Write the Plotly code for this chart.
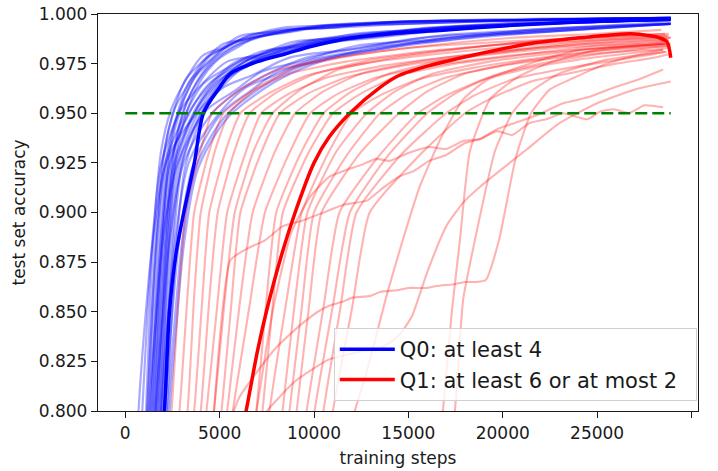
import plotly.graph_objects as go

# ---------------- data ----------------
X_TICKS = [0, 5000, 10000, 15000, 20000, 25000, 30000]
Y_TICKS = [0.800, 0.825, 0.850, 0.875, 0.900, 0.925, 0.950, 0.975, 1.000]
THRESHOLD_STEPS = [0, 28900]
THRESHOLD_ACC = [0.95, 0.95]

LEGEND_Q0 = "Q0: at least 4"
LEGEND_Q1 = "Q1: at least 6 or at most 2"
X_LABEL = "training steps"
Y_LABEL = "test set accuracy"

# individual Q0 runs (blue, faint)
BLUE_RUN_STEPS = [
    [100, 1100, 1350, 1600, 1900, 2400, 3100, 4100, 5100, 6100, 8100, 10100, 14100, 21100, 28900],
    [200, 1200, 1450, 1700, 2000, 2500, 3200, 4200, 5200, 6200, 8200, 10200, 14200, 21200, 28900],
    [300, 1300, 1550, 1800, 2100, 2600, 3300, 4300, 5300, 6300, 8300, 10300, 14300, 21300, 28900],
    [400, 1400, 1650, 1900, 2200, 2700, 3400, 4400, 5400, 6400, 8400, 10400, 14400, 21400, 28900],
    [500, 1500, 1750, 2000, 2300, 2800, 3500, 4500, 5500, 6500, 8500, 10500, 14500, 21500, 28900],
    [600, 1600, 1850, 2100, 2400, 2900, 3600, 4600, 5600, 6600, 8600, 10600, 14600, 21600, 28900],
    [700, 1700, 1950, 2200, 2500, 3000, 3700, 4700, 5700, 6700, 8700, 10700, 14700, 21700, 28900],
    [800, 1800, 2050, 2300, 2600, 3100, 3800, 4800, 5800, 6800, 8800, 10800, 14800, 21800, 28900],
    [900, 1900, 2150, 2400, 2700, 3200, 3900, 4900, 5900, 6900, 8900, 10900, 14900, 21900, 28900],
    [0, 900, 1200, 1500, 1900, 2900, 3900, 5400, 6900, 8900, 11900, 15900, 20900, 28900],
    [150, 1150, 1450, 1750, 2150, 3150, 4150, 5650, 7150, 9150, 12150, 16150, 21150, 28900],
    [350, 1350, 1650, 1950, 2350, 3350, 4350, 5850, 7350, 9350, 12350, 16350, 21350, 28900],
    [450, 1450, 1750, 2050, 2450, 3450, 4450, 5950, 7450, 9450, 12450, 16450, 21450, 28900],
    [550, 1550, 1850, 2150, 2550, 3550, 4550, 6050, 7550, 9550, 12550, 16550, 21550, 28900],
    [650, 1650, 1950, 2250, 2650, 3650, 4650, 6150, 7650, 9650, 12650, 16650, 21650, 28900],
    [750, 1750, 2050, 2350, 2750, 3750, 4750, 6250, 7750, 9750, 12750, 16750, 21750, 28900],
    [850, 1850, 2150, 2450, 2850, 3850, 4850, 6350, 7850, 9850, 12850, 16850, 21850, 28900],
    [950, 1950, 2250, 2550, 2950, 3950, 4950, 6450, 7950, 9950, 12950, 16950, 21950, 28900],
    [1050, 2050, 2350, 2650, 3050, 4050, 5050, 6550, 8050, 10050, 13050, 17050, 22050, 28900],
    [1200, 2200, 2500, 2800, 3200, 4200, 5200, 6700, 8200, 10200, 13200, 17200, 22200, 28900],
    [0, 700, 1100, 1500, 2200, 3700, 5200, 6700, 8700, 11700, 15700, 20700, 28900],
    [250, 1250, 1650, 2050, 2750, 4250, 5750, 7250, 9250, 12250, 16250, 21250, 28900],
    [600, 1600, 2000, 2400, 3100, 4600, 6100, 7600, 9600, 12600, 16600, 21600, 28900],
    [900, 1900, 2300, 2700, 3400, 4900, 6400, 7900, 9900, 12900, 16900, 21900, 28900],
    [1100, 2100, 2500, 2900, 3600, 5100, 6600, 8100, 10100, 13100, 17100, 22100, 28900],
    [1250, 2250, 2650, 3050, 3750, 5250, 6750, 8250, 10250, 13250, 17250, 22250, 28900],
    [1350, 2350, 2750, 3150, 3850, 5350, 6850, 8350, 10350, 13350, 17350, 22350, 28900],
]
BLUE_RUN_ACC = [
    [0.62, 0.80, 0.862, 0.902, 0.931, 0.951, 0.965, 0.979, 0.983, 0.989, 0.991, 0.994, 0.996, 0.997, 0.998],
    [0.62, 0.80, 0.858, 0.899, 0.928, 0.949, 0.967, 0.977, 0.985, 0.987, 0.992, 0.993, 0.996, 0.9975, 0.998],
    [0.62, 0.80, 0.861, 0.901, 0.932, 0.952, 0.964, 0.978, 0.983, 0.988, 0.993, 0.994, 0.995, 0.997, 0.998],
    [0.62, 0.80, 0.860, 0.900, 0.929, 0.948, 0.966, 0.976, 0.984, 0.987, 0.991, 0.994, 0.996, 0.997, 0.998],
    [0.62, 0.80, 0.859, 0.898, 0.930, 0.950, 0.965, 0.979, 0.984, 0.989, 0.992, 0.993, 0.996, 0.997, 0.998],
    [0.62, 0.80, 0.862, 0.903, 0.932, 0.951, 0.967, 0.977, 0.985, 0.988, 0.991, 0.994, 0.995, 0.997, 0.998],
    [0.62, 0.80, 0.857, 0.897, 0.927, 0.949, 0.964, 0.976, 0.983, 0.987, 0.992, 0.993, 0.996, 0.997, 0.998],
    [0.62, 0.80, 0.860, 0.900, 0.930, 0.951, 0.966, 0.978, 0.984, 0.988, 0.991, 0.994, 0.996, 0.997, 0.998],
    [0.62, 0.80, 0.858, 0.899, 0.929, 0.949, 0.965, 0.977, 0.983, 0.988, 0.992, 0.993, 0.995, 0.997, 0.998],
    [0.64, 0.80, 0.853, 0.893, 0.924, 0.951, 0.963, 0.976, 0.979, 0.986, 0.988, 0.993, 0.995, 0.997],
    [0.62, 0.80, 0.856, 0.896, 0.926, 0.949, 0.965, 0.974, 0.981, 0.984, 0.990, 0.992, 0.995, 0.997],
    [0.62, 0.80, 0.854, 0.894, 0.925, 0.950, 0.963, 0.976, 0.980, 0.986, 0.989, 0.993, 0.996, 0.9975],
    [0.62, 0.80, 0.857, 0.896, 0.927, 0.951, 0.965, 0.974, 0.981, 0.985, 0.988, 0.992, 0.995, 0.997],
    [0.62, 0.80, 0.855, 0.895, 0.924, 0.949, 0.964, 0.976, 0.979, 0.986, 0.990, 0.993, 0.995, 0.997],
    [0.62, 0.80, 0.853, 0.894, 0.925, 0.950, 0.963, 0.975, 0.981, 0.984, 0.989, 0.993, 0.995, 0.997],
    [0.62, 0.80, 0.856, 0.896, 0.926, 0.951, 0.965, 0.974, 0.980, 0.985, 0.988, 0.992, 0.995, 0.9975],
    [0.62, 0.80, 0.855, 0.895, 0.925, 0.950, 0.964, 0.976, 0.981, 0.986, 0.989, 0.993, 0.995, 0.997],
    [0.62, 0.80, 0.854, 0.894, 0.924, 0.949, 0.963, 0.975, 0.979, 0.985, 0.990, 0.992, 0.995, 0.997],
    [0.62, 0.80, 0.856, 0.896, 0.926, 0.950, 0.965, 0.974, 0.980, 0.984, 0.989, 0.993, 0.996, 0.997],
    [0.62, 0.80, 0.855, 0.894, 0.924, 0.951, 0.964, 0.976, 0.981, 0.985, 0.988, 0.992, 0.995, 0.997],
    [0.65, 0.80, 0.851, 0.889, 0.926, 0.949, 0.963, 0.969, 0.978, 0.982, 0.988, 0.991, 0.995],
    [0.62, 0.80, 0.849, 0.891, 0.924, 0.951, 0.961, 0.971, 0.976, 0.984, 0.987, 0.992, 0.995],
    [0.62, 0.80, 0.850, 0.890, 0.925, 0.950, 0.962, 0.970, 0.978, 0.983, 0.989, 0.992, 0.996],
    [0.62, 0.80, 0.852, 0.890, 0.926, 0.949, 0.963, 0.969, 0.977, 0.982, 0.988, 0.991, 0.995],
    [0.62, 0.80, 0.850, 0.889, 0.924, 0.950, 0.961, 0.971, 0.976, 0.983, 0.987, 0.992, 0.995],
    [0.62, 0.80, 0.849, 0.888, 0.923, 0.948, 0.960, 0.969, 0.977, 0.982, 0.988, 0.991, 0.995],
    [0.62, 0.80, 0.848, 0.887, 0.922, 0.947, 0.959, 0.968, 0.976, 0.982, 0.987, 0.991, 0.995],
]

# mean of Q0 runs (blue, bold)
BLUE_MEAN_STEPS = [0, 1500, 2070, 2340, 2700, 3100, 3660, 4140, 5000, 5570, 7000, 8500,
                   10000, 12000, 14000, 17000, 20000, 24000, 28900]
BLUE_MEAN_ACC = [0.50, 0.74, 0.80, 0.85, 0.88, 0.90, 0.925, 0.95, 0.963, 0.970, 0.976, 0.980,
                 0.984, 0.988, 0.990, 0.992, 0.994, 0.996, 0.9975]

# individual Q1 runs (red, faint)
RED_RUN_STEPS = [
    [1450, 2450, 2820, 3200, 3900, 4600, 6100, 8100, 11100, 15100, 20000, 24500, 28600],
    [1870, 2870, 3260, 3650, 4420, 5200, 6700, 8700, 11700, 15700, 20500, 25000, 28800],
    [2300, 3300, 3650, 4000, 4750, 5500, 7000, 9000, 12000, 16000, 20500, 25000, 28400],
    [2650, 3650, 4050, 4450, 5250, 6100, 7600, 9600, 12600, 16600, 21000, 25500, 28900],
    [3000, 4000, 4450, 4900, 5750, 6600, 8100, 10100, 13100, 17100, 21500, 25500, 28700],
    [3300, 4300, 4850, 5400, 6300, 7200, 8700, 10700, 13700, 17700, 22000, 26000, 28500],
    [3700, 4700, 5250, 5800, 6800, 7800, 9300, 11300, 14300, 18300, 22500, 26000, 28800],
    [4100, 5100, 5600, 6100, 7150, 8200, 9700, 11700, 14700, 18700, 23000, 26500, 28600],
    [4400, 5400, 6050, 6750, 7900, 9000, 10500, 12500, 15500, 19500, 23500, 26500, 28900],
    [4700, 5700, 6550, 7400, 8600, 9800, 11300, 13300, 16300, 20300, 24000, 27000, 28700],
    [5950, 6950, 7470, 8000, 9250, 10500, 12000, 14000, 17000, 21000, 24500, 27000, 28800],
    [6270, 7270, 7800, 8350, 9700, 11000, 12500, 14500, 17500, 21500, 25000, 27500, 28600],
    [6640, 7640, 8500, 9350, 10700, 12000, 13500, 15500, 18500, 22000, 25500, 27500, 28900],
    [7330, 8330, 9000, 9650, 11200, 12800, 14300, 16300, 19300, 22500, 25500, 27500, 28700],
    [7700, 8700, 9350, 10000, 11750, 13500, 15000, 17000, 20000, 23000, 26000, 28000, 28800],
    [8080, 9080, 9750, 10400, 12450, 14500, 16000, 18000, 21000, 24000, 26500, 28000, 28900],
    [8610, 9610, 10500, 11350, 13400, 15500, 17000, 19000, 21500, 24000, 26500, 28500],
    [9030, 10030, 11000, 11900, 13950, 16000, 17500, 19500, 22000, 24500, 27000, 28800],
    [9500, 10500, 11400, 12250, 14600, 17000, 18500, 20500, 23000, 25500, 27500, 28600],
    [10000, 11000, 12000, 12950, 15500, 18000, 19500, 21500, 24000, 26000, 28000, 28900],
    # kinked slow run ending near 0.972
    [4300, 4700, 5570, 6500, 7400, 8330, 9400, 10500, 11600, 12800, 13600, 14500, 15300, 16100,
     17000, 18000, 18800, 19700, 20600, 21800, 23200, 24500, 25900, 27200, 28500],
    # slow run ending near 0.953
    [6000, 6950, 7800, 8800, 9800, 10800, 11600, 12500, 13300, 14000, 15000, 16100, 17000, 17900,
     18800, 19700, 20500, 21400, 22300, 23200, 24000, 24500, 25200, 25900, 26700, 27500, 28500],
    # plateau run that jumps late
    [5000, 6050, 7000, 8000, 9000, 9500, 10200, 10800, 11500, 12000, 13000, 13500, 14500, 15000,
     16000, 16500, 17500, 18000, 18600, 19100, 19800, 20700, 21500, 22500, 23800, 25500, 27000,
     28500],
    # slow run under the legend that rises late
    [6000, 7500, 9000, 10800, 12500, 13600, 14500, 15200, 16000, 17000, 17900, 18800, 20500,
     21300, 23000, 25000, 27000, 28900],
    # late steep run
    [11500, 12800, 13900, 14700, 15600, 16700, 17900, 19200, 21400, 24100, 28600],
    # very late steep runs
    [15500, 16300, 16830, 17300, 17730, 18260, 19320, 20750, 22350, 25000, 28500],
    [16500, 17460, 17900, 18500, 19590, 20500, 21500, 23000, 25500, 28700],
]
RED_RUN_ACC = [
    [0.72, 0.80, 0.857, 0.90, 0.928, 0.95, 0.962, 0.972, 0.978, 0.983, 0.986, 0.988, 0.990],
    [0.72, 0.80, 0.853, 0.90, 0.930, 0.95, 0.961, 0.970, 0.976, 0.981, 0.985, 0.987, 0.989],
    [0.72, 0.80, 0.858, 0.90, 0.931, 0.95, 0.963, 0.973, 0.979, 0.984, 0.988, 0.990, 0.992],
    [0.72, 0.80, 0.852, 0.90, 0.929, 0.95, 0.960, 0.969, 0.975, 0.980, 0.984, 0.987, 0.988],
    [0.72, 0.80, 0.856, 0.90, 0.930, 0.95, 0.961, 0.970, 0.977, 0.982, 0.986, 0.988, 0.989],
    [0.72, 0.80, 0.851, 0.90, 0.928, 0.95, 0.960, 0.968, 0.974, 0.979, 0.983, 0.986, 0.987],
    [0.72, 0.80, 0.854, 0.90, 0.931, 0.95, 0.962, 0.972, 0.978, 0.983, 0.987, 0.989, 0.990],
    [0.72, 0.80, 0.852, 0.90, 0.929, 0.95, 0.960, 0.968, 0.974, 0.979, 0.983, 0.985, 0.986],
    [0.72, 0.80, 0.853, 0.90, 0.930, 0.95, 0.961, 0.970, 0.976, 0.981, 0.985, 0.987, 0.988],
    [0.72, 0.80, 0.851, 0.90, 0.928, 0.95, 0.960, 0.968, 0.974, 0.979, 0.982, 0.984, 0.985],
    [0.72, 0.80, 0.855, 0.90, 0.929, 0.95, 0.961, 0.970, 0.977, 0.982, 0.985, 0.986, 0.987],
    [0.72, 0.80, 0.852, 0.90, 0.930, 0.95, 0.960, 0.969, 0.975, 0.980, 0.984, 0.985, 0.986],
    [0.72, 0.80, 0.853, 0.90, 0.929, 0.95, 0.959, 0.967, 0.973, 0.978, 0.982, 0.983, 0.984],
    [0.72, 0.80, 0.856, 0.90, 0.931, 0.95, 0.961, 0.970, 0.976, 0.980, 0.983, 0.984, 0.985],
    [0.72, 0.80, 0.852, 0.90, 0.929, 0.95, 0.960, 0.968, 0.974, 0.978, 0.981, 0.982, 0.983],
    [0.72, 0.80, 0.854, 0.90, 0.930, 0.95, 0.961, 0.970, 0.976, 0.980, 0.983, 0.984, 0.985],
    [0.72, 0.80, 0.852, 0.90, 0.928, 0.95, 0.959, 0.967, 0.973, 0.977, 0.980, 0.982],
    [0.72, 0.80, 0.853, 0.90, 0.929, 0.95, 0.960, 0.969, 0.975, 0.979, 0.982, 0.984],
    [0.72, 0.80, 0.852, 0.90, 0.929, 0.95, 0.959, 0.967, 0.972, 0.976, 0.979, 0.981],
    [0.72, 0.80, 0.851, 0.90, 0.928, 0.95, 0.958, 0.966, 0.971, 0.975, 0.978, 0.980],
    [0.72, 0.80, 0.876, 0.882, 0.886, 0.893, 0.896, 0.900, 0.904, 0.906, 0.912, 0.918, 0.921,
     0.926, 0.929, 0.935, 0.937, 0.942, 0.945, 0.949, 0.955, 0.958, 0.963, 0.967, 0.972],
    [0.75, 0.80, 0.85, 0.89, 0.908, 0.918, 0.921, 0.924, 0.927, 0.926, 0.930, 0.933, 0.932, 0.936,
     0.937, 0.941, 0.939, 0.945, 0.947, 0.950, 0.948, 0.947, 0.951, 0.952, 0.950, 0.954, 0.953],
    [0.78, 0.807, 0.820, 0.832, 0.841, 0.845, 0.850, 0.853, 0.855, 0.857, 0.858, 0.860, 0.861,
     0.862, 0.862, 0.863, 0.864, 0.865, 0.865, 0.866, 0.886, 0.928, 0.950, 0.962, 0.968, 0.975,
     0.979, 0.982],
    [0.78, 0.80, 0.815, 0.826, 0.830, 0.832, 0.838, 0.848, 0.870, 0.893, 0.905, 0.913, 0.926,
     0.932, 0.945, 0.955, 0.962, 0.966],
    [0.78, 0.82, 0.86, 0.886, 0.913, 0.937, 0.957, 0.967, 0.975, 0.982, 0.985],
    [0.70, 0.76, 0.80, 0.850, 0.886, 0.931, 0.957, 0.968, 0.975, 0.982, 0.985],
    [0.74, 0.80, 0.856, 0.885, 0.931, 0.950, 0.961, 0.970, 0.977, 0.981],
]

# mean of Q1 runs (red, bold)
RED_MEAN_STEPS = [4500, 5500, 6400, 7000, 7500, 8200, 9000, 10000, 10800, 11900, 13500, 14500,
                  16100, 18300, 21400, 24100, 26800, 27800, 28300, 28700, 28900]
RED_MEAN_ACC = [0.70, 0.76, 0.80, 0.83, 0.851, 0.876, 0.900, 0.925, 0.938, 0.950, 0.963, 0.969,
                0.974, 0.979, 0.985, 0.988, 0.990, 0.989, 0.988, 0.986, 0.978]

# ---------------- figure ----------------
FONT = "DejaVu Sans"
TEXT = "#1a1a1a"
NBSP = "\u00a0"
fig = go.Figure()

for xs, ys in zip(BLUE_RUN_STEPS, BLUE_RUN_ACC):
    fig.add_trace(go.Scatter(x=xs, y=ys, mode="lines", showlegend=False, hoverinfo="skip",
                             line=dict(color="rgba(0,0,255,0.34)", width=2.2,
                                       shape="spline", smoothing=0.9)))
for xs, ys in zip(RED_RUN_STEPS, RED_RUN_ACC):
    fig.add_trace(go.Scatter(x=xs, y=ys, mode="lines", showlegend=False, hoverinfo="skip",
                             line=dict(color="rgba(255,0,0,0.3)", width=2.1,
                                       shape="spline", smoothing=0.5)))

fig.add_trace(go.Scatter(x=BLUE_MEAN_STEPS, y=BLUE_MEAN_ACC, mode="lines",
                         name=LEGEND_Q0 + NBSP * 2,
                         line=dict(color="#0000ff", width=3.5, shape="spline", smoothing=0.8)))
fig.add_trace(go.Scatter(x=RED_MEAN_STEPS, y=RED_MEAN_ACC, mode="lines",
                         name=LEGEND_Q1 + NBSP * 2,
                         line=dict(color="#ff0000", width=3.5, shape="spline", smoothing=0.8)))
fig.add_trace(go.Scatter(x=THRESHOLD_STEPS, y=THRESHOLD_ACC, mode="lines", showlegend=False,
                         hoverinfo="skip",
                         line=dict(color="#008000", width=2.6, dash="12px,5px")))

fig.update_layout(
    width=718, height=471,
    margin=dict(l=98, r=20, t=14, b=60, autoexpand=False),
    paper_bgcolor="white", plot_bgcolor="white",
    font=dict(family=FONT, size=17, color=TEXT),
    showlegend=True,
    legend=dict(x=0.998, y=0.025, xanchor="right", yanchor="bottom",
                bgcolor="rgba(255,255,255,0.8)", bordercolor="#d0d0d0", borderwidth=1,
                font=dict(family=FONT, size=21, color=TEXT),
                itemwidth=55, tracegroupgap=0),
    annotations=[dict(text=Y_LABEL, xref="paper", yref="paper", x=-0.1333, y=0.5,
                      xanchor="center", yanchor="middle", textangle=-90, showarrow=False,
                      font=dict(family=FONT, size=17, color=TEXT))],
)
fig.update_xaxes(
    range=[-1445, 30345], tickvals=X_TICKS, ticktext=[str(v) for v in X_TICKS],
    showgrid=False, zeroline=False, showline=True, linecolor=TEXT, linewidth=1.4,
    mirror=True, ticks="outside", ticklen=6, tickwidth=1.4, tickcolor=TEXT, automargin=False,
    title=dict(text=X_LABEL, standoff=10, font=dict(family=FONT, size=17)),
)
fig.update_yaxes(
    range=[0.8, 1.0], tickvals=Y_TICKS, ticktext=["%.3f" % v for v in Y_TICKS],
    showgrid=False, zeroline=False, showline=True, linecolor=TEXT, linewidth=1.4,
    mirror=True, ticks="outside", ticklen=6, tickwidth=1.4, tickcolor=TEXT, automargin=False,
)

fig.write_html("out.html")
